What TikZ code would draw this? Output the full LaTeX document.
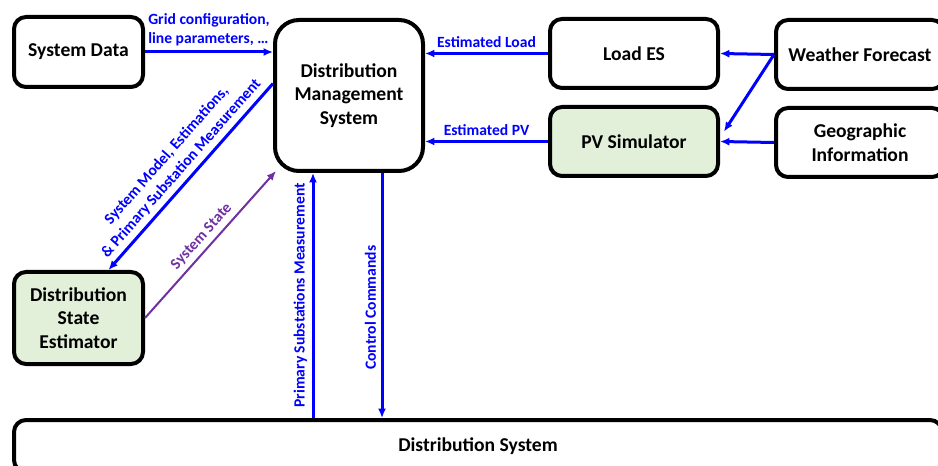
\documentclass[tikz,border=0pt]{standalone}
\usepackage{fontspec}
\setmainfont{Carlito}
\usepackage{tikz}
\usetikzlibrary{arrows.meta,positioning,calc}
\definecolor{estgreen}{HTML}{E2EFD9}
\definecolor{statepurple}{HTML}{7030A0}

\begin{document}
\begin{tikzpicture}[x=0.75pt,y=-0.75pt,>={Latex[length=7pt,width=6pt]},
    block/.style={draw,line width=3pt,rounded corners=9pt,align=center,inner sep=0pt,
      font=\fontsize{14.7}{17.8}\selectfont\bfseries},
    flow/.style={draw=blue,line width=2.25pt},
    flowlabel/.style={text=blue,align=center,font=\fontsize{11.7}{14.5}\selectfont\bfseries}]
  \useasboundingbox (0,0) rectangle (938,466);
  \node[block,minimum width=96.75pt,minimum height=52.5pt] (sysdata) at (78.5,52) {System Data};
  \node[block,rounded corners=18pt,minimum width=111pt,minimum height=113.25pt] (dms) at (349,95.5)
    {Distribution\\Management\\System};
  \node[block,minimum width=126pt,minimum height=51.75pt] (loades) at (634,53.5) {Load ES};
  \node[block,fill=estgreen,minimum width=126pt,minimum height=51.75pt,below=11.25pt of loades] (pv) {PV Simulator};
  \node[block,minimum width=126pt,minimum height=51.75pt] (weather) at (860,54.5) {Weather Forecast};
  \node[block,minimum width=126pt,minimum height=51.75pt,below=11.25pt of weather] (geo) {Geographic\\Information};
  \node[block,fill=estgreen,minimum width=96.75pt,minimum height=69pt] (dse) at (78.5,318)
    {Distribution\\State\\Estimator};
  \node[block,minimum width=696pt,minimum height=39pt] (distsys) at (478,446) {Distribution System};

  \coordinate (meas) at ($(dms.south)+(-36,0)$);
  \coordinate (ctrl) at ($(dms.south)+(33,0)$);

  \draw[flow,->] (sysdata.east) -- (sysdata.east -| dms.west)
    node[midway,above,flowlabel,align=left] {Grid configuration,\\line parameters, \ldots};
  \draw[flow,->] (loades.west) -- (loades.west -| dms.east) node[midway,above,flowlabel] {Estimated Load};
  \draw[flow,->] (pv.west) -- (pv.west -| dms.east) node[midway,above,flowlabel] {Estimated PV};
  \draw[flow,->] (weather.west) -- (loades.east);
  \draw[flow,->] (weather.west) -- ($(pv.east)+(4,-10)$);
  \draw[flow,->] (geo.west) -- (pv.east);
  \draw[flow,<-] ($(dse.north)+(30,0)$) -- ($(dms.west)+(0,-12)$)
    node[midway,sloped,above,flowlabel] {System Model, Estimations,\\\& Primary Substation Measurement};
  \draw[draw=statepurple,line width=1.5pt,->] (dse.east) -- ($(dms.south west)+(3,-2)$)
    node[midway,sloped,above,flowlabel,text=statepurple] {System State};
  \draw[flow,<-] (meas) -- (meas |- distsys.north)
    node[midway,rotate=90,anchor=south,flowlabel] {Primary Substations Measurement};
  \draw[flow,->] (ctrl) -- (ctrl |- distsys.north)
    node[pos=0.55,rotate=90,anchor=south,flowlabel] {Control Commands};
\end{tikzpicture}
\end{document}
